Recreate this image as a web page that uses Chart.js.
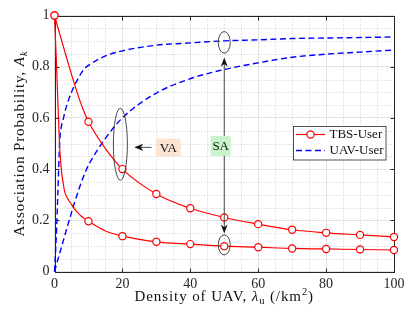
<!DOCTYPE html>
<html>
<head>
<meta charset="utf-8">
<script src="https://cdn.jsdelivr.net/npm/chart.js@4.4.1/dist/chart.umd.min.js"></script>
<style>
  html, body { margin: 0; padding: 0; background: #fff; }
  canvas { display: block; }
</style>
</head>
<body>
<canvas id="chart" width="415" height="312"></canvas>
<script>
// UAV density samples (/km^2)
const densityUav = [0, 0.5, 1, 1.5, 2, 2.5, 3, 4, 5, 6, 7, 8, 9, 10, 15, 20, 30, 40, 50, 60, 70, 80, 90, 100];
// densities where the TBS markers are drawn
const markerDensity = [0, 10, 20, 30, 40, 50, 60, 70, 80, 90, 100];

// TBS-User association probability (two cases)
const tbsUpper = [1, 0.977, 0.953, 0.93, 0.907, 0.884, 0.861, 0.815, 0.77, 0.727, 0.686, 0.648, 0.614, 0.585, 0.48, 0.40, 0.303, 0.247, 0.211, 0.185, 0.163, 0.151, 0.143, 0.135];
const tbsLower = [1, 0.84, 0.66, 0.49, 0.40, 0.35, 0.312, 0.282, 0.262, 0.243, 0.228, 0.215, 0.205, 0.196, 0.158, 0.138, 0.116, 0.107, 0.099, 0.095, 0.090, 0.088, 0.086, 0.084];

// UAV-User association probability (two cases)
const uavUpper = [0, 0.13, 0.31, 0.50, 0.565, 0.59, 0.62, 0.665, 0.70, 0.73, 0.755, 0.778, 0.794, 0.805, 0.842, 0.862, 0.884, 0.893, 0.901, 0.905, 0.910, 0.912, 0.914, 0.916];
const uavLower = [0, 0.023, 0.047, 0.07, 0.093, 0.116, 0.139, 0.185, 0.23, 0.273, 0.314, 0.352, 0.386, 0.415, 0.52, 0.60, 0.697, 0.753, 0.789, 0.815, 0.837, 0.849, 0.857, 0.865];

const xTicks = [0, 20, 40, 60, 80, 100];
const yTicks = [0, 0.2, 0.4, 0.6, 0.8, 1];

const serif = '"Liberation Serif", "Times New Roman", serif';
const ink = '#262626';
const red = '#ff0000';
const blue = '#0000ff';

const toPoints = ys => densityUav.map((x, i) => ({ x: x, y: ys[i] }));
const markerRadius = ctx => (ctx.raw && markerDensity.includes(ctx.raw.x)) ? 3.6 : 0;

function tbsSet(ys) {
  return {
    data: toPoints(ys),
    borderColor: red,
    borderWidth: 1.2,
    pointRadius: markerRadius,
    pointBackgroundColor: '#fff',
    pointBorderColor: red,
    pointBorderWidth: 1.2,
    cubicInterpolationMode: 'monotone',
    clip: 8
  };
}
function uavSet(ys) {
  return {
    data: toPoints(ys),
    borderColor: blue,
    borderWidth: 1.4,
    borderDash: [6, 3.5],
    pointRadius: 0,
    cubicInterpolationMode: 'monotone',
    clip: 8
  };
}

function arrowHead(ctx, tx, ty, angle, len, half) {
  ctx.save();
  ctx.translate(tx, ty);
  ctx.rotate(angle);
  ctx.beginPath();
  ctx.moveTo(0, 0);
  ctx.lineTo(-len, -half);
  ctx.lineTo(-len * 0.72, 0);
  ctx.lineTo(-len, half);
  ctx.closePath();
  ctx.fill();
  ctx.restore();
}

// draws a run of text pieces centred on (cx, cy)
function richText(ctx, parts, cx, cy, spacing) {
  ctx.letterSpacing = spacing || '0px';
  let w = 0;
  parts.forEach(p => { ctx.font = p.font; p.w = ctx.measureText(p.t).width; w += p.w; });
  let px = cx - w / 2;
  ctx.textAlign = 'left';
  ctx.textBaseline = 'alphabetic';
  parts.forEach(p => {
    ctx.font = p.font;
    ctx.fillText(p.t, px, cy + (p.dy || 0));
    px += p.w;
  });
  ctx.letterSpacing = '0px';
}

const frameAndGrid = {
  id: 'frameAndGrid',
  beforeDatasetsDraw(chart) {
    const { ctx, chartArea: a, scales: { x, y } } = chart;
    ctx.save();
    ctx.lineWidth = 1;
    ctx.strokeStyle = '#cdcdcd';
    ctx.setLineDash([1, 2]);
    for (let v = 5; v < 100; v += 5) {
      if (v % 20 === 0) continue;
      const px = Math.round(x.getPixelForValue(v)) + 0.5;
      ctx.beginPath(); ctx.moveTo(px, a.top); ctx.lineTo(px, a.bottom); ctx.stroke();
    }
    for (let k = 1; k < 20; k++) {
      if (k % 4 === 0) continue;
      const py = Math.round(y.getPixelForValue(k * 0.05)) + 0.5;
      ctx.beginPath(); ctx.moveTo(a.left, py); ctx.lineTo(a.right, py); ctx.stroke();
    }
    ctx.setLineDash([]);
    ctx.strokeStyle = ink;
    const L = Math.round(a.left) + 0.5, R = Math.round(a.right) + 0.5;
    const T = Math.round(a.top) + 0.5, B = Math.round(a.bottom) + 0.5;
    ctx.strokeRect(L, T, R - L, B - T);
    ctx.beginPath();
    xTicks.forEach(v => {
      const px = Math.round(x.getPixelForValue(v)) + 0.5;
      ctx.moveTo(px, B); ctx.lineTo(px, B - 4);
      ctx.moveTo(px, T); ctx.lineTo(px, T + 4);
    });
    yTicks.forEach(v => {
      const py = Math.round(y.getPixelForValue(v)) + 0.5;
      ctx.moveTo(L, py); ctx.lineTo(L + 4, py);
      ctx.moveTo(R, py); ctx.lineTo(R - 4, py);
    });
    ctx.stroke();
    ctx.restore();
  }
};

const overlay = {
  id: 'overlay',
  afterDatasetsDraw(chart) {
    const { ctx, chartArea: a, scales: { x, y } } = chart;
    ctx.save();
    ctx.strokeStyle = '#333';
    ctx.fillStyle = '#111';
    ctx.lineWidth = 0.9;

    // VA ellipse and arrow
    ctx.beginPath();
    ctx.ellipse(x.getPixelForValue(19.4), y.getPixelForValue(0.497), 7, 36, 0, 0, Math.PI * 2);
    ctx.stroke();
    const vaY = y.getPixelForValue(0.485);
    ctx.beginPath();
    ctx.moveTo(x.getPixelForValue(28.6), vaY);
    ctx.lineTo(x.getPixelForValue(24.5), vaY);
    ctx.stroke();
    arrowHead(ctx, x.getPixelForValue(23.5), vaY, Math.PI, 9, 3.6);

    // SA ellipses and arrows
    const saX = x.getPixelForValue(50);
    ctx.beginPath();
    ctx.ellipse(saX, y.getPixelForValue(0.895), 6, 10.8, 0, 0, Math.PI * 2);
    ctx.stroke();
    ctx.beginPath();
    ctx.ellipse(saX, y.getPixelForValue(0.104), 6, 10, 0, 0, Math.PI * 2);
    ctx.stroke();
    const upTip = y.getPixelForValue(0.836), downTip = y.getPixelForValue(0.148);
    ctx.beginPath();
    ctx.moveTo(saX, upTip + 4); ctx.lineTo(saX, downTip - 4);
    ctx.stroke();
    arrowHead(ctx, saX, upTip, -Math.PI / 2, 9, 3.4);
    arrowHead(ctx, saX, downTip, Math.PI / 2, 9, 3.4);

    // label boxes
    ctx.font = '13px ' + serif;
    ctx.textAlign = 'center';
    ctx.textBaseline = 'middle';
    const vaCx = x.getPixelForValue(33.5), vaCy = y.getPixelForValue(0.484);
    ctx.fillStyle = '#fae5d3';
    ctx.fillRect(vaCx - 12.5, vaCy - 9.2, 25, 18.4);
    ctx.fillStyle = '#111';
    ctx.fillText('VA', vaCx, vaCy + 0.5);
    const saCx = x.getPixelForValue(48.95), saCy = y.getPixelForValue(0.491);
    ctx.fillStyle = '#c9f4c9';
    ctx.fillRect(saCx - 10, saCy - 10, 20, 20);
    ctx.fillStyle = '#111';
    ctx.fillText('SA', saCx, saCy + 0.5);

    // legend
    const lx = 293.5, ly = 126.5, lw = 92.5, lh = 33.5;
    ctx.fillStyle = '#fff';
    ctx.fillRect(lx, ly, lw, lh);
    ctx.strokeStyle = ink;
    ctx.lineWidth = 0.8;
    ctx.strokeRect(lx, ly, lw, lh);
    const row1 = 134.5, row2 = 150.5;
    ctx.lineWidth = 1.2;
    ctx.strokeStyle = red;
    ctx.beginPath(); ctx.moveTo(296, row1); ctx.lineTo(325, row1); ctx.stroke();
    ctx.beginPath(); ctx.arc(310.5, row1, 3.6, 0, Math.PI * 2);
    ctx.fillStyle = '#fff'; ctx.fill(); ctx.stroke();
    ctx.strokeStyle = blue;
    ctx.lineWidth = 1.4;
    ctx.setLineDash([6, 3.5]);
    ctx.beginPath(); ctx.moveTo(296, row2); ctx.lineTo(325, row2); ctx.stroke();
    ctx.setLineDash([]);
    ctx.fillStyle = '#111';
    ctx.font = '13px ' + serif;
    ctx.textAlign = 'left';
    ctx.textBaseline = 'middle';
    ctx.fillText('TBS-User', 329.5, row1 + 0.5);
    ctx.fillText('UAV-User', 329.5, row2 + 0.5);

    // axis titles
    const big = '15px ' + serif, bigIt = 'italic 15px ' + serif;
    const small = '10.5px ' + serif, smallIt = 'italic 10.5px ' + serif;
    ctx.fillStyle = '#111';
    richText(ctx, [
      { t: 'Density of UAV, ', font: big },
      { t: 'λ', font: bigIt },
      { t: 'u', font: small, dy: 3 },
      { t: ' (/km', font: big },
      { t: '2', font: small, dy: -6 },
      { t: ')', font: big }
    ], (a.left + a.right) / 2, 301, '0.9px');
    ctx.save();
    ctx.translate(24, (a.top + a.bottom) / 2);
    ctx.rotate(-Math.PI / 2);
    richText(ctx, [
      { t: 'Association Probability, ', font: big },
      { t: 'A', font: bigIt },
      { t: 'k', font: smallIt, dy: 3 }
    ], 0, 0, '0.9px');
    ctx.restore();

    ctx.restore();
  }
};

new Chart(document.getElementById('chart'), {
  type: 'line',
  data: {
    datasets: [tbsSet(tbsUpper), tbsSet(tbsLower), uavSet(uavUpper), uavSet(uavLower)]
  },
  options: {
    responsive: false,
    animation: false,
    layout: { padding: { top: 15.5, right: 21, left: 0, bottom: 0 } },
    plugins: { legend: { display: false }, tooltip: { enabled: false } },
    scales: {
      x: {
        type: 'linear', min: 0, max: 100,
        afterBuildTicks: s => { s.ticks = xTicks.map(v => ({ value: v })); },
        ticks: { font: { family: serif, size: 14 }, color: ink, padding: 4, maxRotation: 0 },
        grid: { color: '#e2e2e2', drawTicks: false },
        border: { display: false },
        afterFit: s => { s.height = 40.5; }
      },
      y: {
        min: 0, max: 1,
        afterBuildTicks: s => { s.ticks = yTicks.map(v => ({ value: v })); },
        ticks: { font: { family: serif, size: 14 }, color: ink, padding: 5, callback: v => String(+v.toFixed(1)) },
        grid: { color: '#e2e2e2', drawTicks: false },
        border: { display: false },
        afterFit: s => { s.width = 54.5; }
      }
    }
  },
  plugins: [frameAndGrid, overlay]
});
</script>
</body>
</html>
